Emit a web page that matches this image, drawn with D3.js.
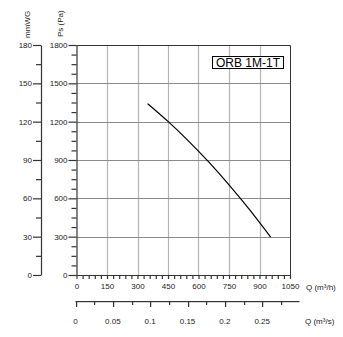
<!DOCTYPE html>
<html>
<head>
<meta charset="utf-8">
<script src="https://cdn.jsdelivr.net/npm/d3@7/dist/d3.min.js"></script>
<style>
  html, body { margin: 0; padding: 0; background: #fff; }
  #wrap { position: relative; width: 343px; height: 337px; }
  #wrap svg { position: absolute; left: 0; top: 0; display: block; }
  svg text { font-family: "Liberation Sans", Arial, sans-serif; }
</style>
</head>
<body>
<div id="wrap">
  <svg id="chart" width="343" height="337" viewBox="0 0 343 337"></svg>
  <svg id="flow-s" width="343" height="337" viewBox="0 0 343 337"></svg>
</div>
<script>
// Fan performance curve: static pressure vs. airflow
const flowM3h    = [350, 450, 550, 650, 750, 850, 955];
const pressurePa = [1341, 1202, 1050, 885, 706, 514, 297];

const paTicks    = [0, 300, 600, 900, 1200, 1500, 1800];
const mmwgTicks  = [0, 30, 60, 90, 120, 150, 180];
const m3hTicks   = [0, 150, 300, 450, 600, 750, 900, 1050];
const m3sTicks   = [0, 0.05, 0.1, 0.15, 0.2, 0.25];
const m3sLabels  = ["0", "0.05", "0.1", "0.15", "0.2", "0.25"];
const m3sMinor   = [0.025, 0.075, 0.125, 0.175, 0.225, 0.275];
const modelName  = "ORB 1M-1T";

const svg = d3.select("#chart");
const ink = "#222";
const axisInk = "#333";

const plotL = 76.5, plotR = 290, plotT = 45, plotB = 275;
const x = d3.scaleLinear().domain([0, 1050]).range([plotL, plotR]);
const y = d3.scaleLinear().domain([0, 1800]).range([plotB, plotT]);
const yMm = d3.scaleLinear().domain([0, 180]).range([plotB, plotT]);
const xS = d3.scaleLinear().domain([0, 0.3]).range([75.5, 299.5]);
const mmAxisX = 41;
const sAxisY = 301;

// grid
const grid = svg.append("g");
grid.selectAll("line.v").data(m3hTicks.slice(1, -1)).join("line")
  .attr("x1", d => Math.round(x(d)) + 0.5).attr("x2", d => Math.round(x(d)) + 0.5)
  .attr("y1", plotT).attr("y2", plotB)
  .attr("stroke", "#b4b4b4").attr("stroke-width", 1.2);
grid.selectAll("line.h").data(paTicks.slice(1, -1)).join("line")
  .attr("x1", plotL).attr("x2", plotR)
  .attr("y1", d => Math.round(y(d)) + 0.5).attr("y2", d => Math.round(y(d)) + 0.5)
  .attr("stroke", "#8a8a8a").attr("stroke-width", 1.2);

// frame: top and right borders
svg.append("path")
  .attr("d", `M${plotL},${plotT + 0.5}H${plotR + 0.5}V${plotB}`)
  .attr("fill", "none").attr("stroke", axisInk).attr("stroke-width", 1);

// Pa axis
const yAxis = d3.axisLeft(y).tickValues(paTicks).tickSize(8).tickSizeOuter(0).tickPadding(1).tickFormat(d3.format("d"));
svg.append("g").attr("transform", `translate(${plotL},0)`).call(yAxis);
const yMinor = d3.axisLeft(y).tickValues(d3.range(0, 1801, 75).filter(v => v % 300 !== 0)).tickSize(5).tickFormat("");
svg.append("g").attr("transform", `translate(${plotL},0)`).call(yMinor).select(".domain").remove();

// mmWG axis
const mmAxis = d3.axisLeft(yMm).tickValues(mmwgTicks).tickSize(8).tickSizeOuter(0).tickPadding(1).tickFormat(d3.format("d"));
svg.append("g").attr("transform", `translate(${mmAxisX},0)`).call(mmAxis);
const mmMinor = d3.axisLeft(yMm).tickValues(d3.range(15, 180, 30)).tickSize(5).tickFormat("");
svg.append("g").attr("transform", `translate(${mmAxisX},0)`).call(mmMinor).select(".domain").remove();

// m3/h axis
const xAxis = d3.axisBottom(x).tickValues(m3hTicks).tickSize(4).tickSizeOuter(0).tickPadding(4).tickFormat(d3.format("d"));
svg.append("g").attr("transform", `translate(0,${plotB})`).call(xAxis);
const xMinor = d3.axisBottom(x).tickValues(d3.range(30, 1050, 30).filter(v => v % 150 !== 0)).tickSize(4).tickFormat("");
svg.append("g").attr("transform", `translate(0,${plotB})`).call(xMinor).select(".domain").remove();

// shared axis styling
svg.selectAll(".domain").attr("stroke", axisInk).attr("stroke-width", 1.2);
svg.selectAll(".tick line").attr("stroke", axisInk).attr("stroke-width", 1.2);
svg.selectAll(".tick text").attr("fill", ink).attr("font-size", 8)
  .attr("font-family", "'Liberation Sans', Arial, sans-serif");

// axis titles
svg.append("text").attr("transform", "translate(30,38) rotate(-90)")
  .attr("font-size", 8).attr("fill", ink).text("mmWG");
svg.append("text").attr("transform", "translate(63,37) rotate(-90)")
  .attr("font-size", 8).attr("fill", ink).text("Ps (Pa)");
svg.append("text").attr("x", 306).attr("y", 290)
  .attr("font-size", 8).attr("fill", ink).text("Q (m³/h)");
svg.append("text").attr("x", 305).attr("y", 324)
  .attr("font-size", 8).attr("fill", ink).text("Q (m³/s)");

// performance curve
const pts = flowM3h.map((q, i) => [q, pressurePa[i]]);
svg.append("path")
  .datum(pts)
  .attr("fill", "none").attr("stroke", "#000").attr("stroke-width", 1.2)
  .attr("d", d3.line().x(d => x(d[0])).y(d => y(d[1])).curve(d3.curveMonotoneX));

// model label box
const lab = svg.append("g");
lab.append("rect").attr("x", 212.5).attr("y", 56.5).attr("width", 71).attr("height", 12)
  .attr("fill", "#fff").attr("stroke", "#000").attr("stroke-width", 1);
lab.append("text").attr("x", 248).attr("y", 66.5).attr("text-anchor", "middle")
  .attr("font-size", 12).attr("fill", "#000").text(modelName);

// m3/s axis on its own layer: baseline, major and minor ticks, labels
const sSvg = d3.select("#flow-s");
const sG = sSvg.append("g").attr("fill", axisInk);
sG.append("rect")
  .attr("x", xS(0)).attr("y", sAxisY)
  .attr("width", xS(0.3) - xS(0)).attr("height", 1.2);
sG.selectAll("rect.maj").data(m3sTicks).join("rect").attr("class", "maj")
  .attr("x", d => Math.round(xS(d))).attr("y", sAxisY)
  .attr("width", 1.2).attr("height", 6);
sG.selectAll("rect.min").data(m3sMinor).join("rect").attr("class", "min")
  .attr("x", d => Math.round(xS(d))).attr("y", sAxisY)
  .attr("width", 1.2).attr("height", 4);
sSvg.append("g").selectAll("text").data(m3sTicks).join("text")
  .attr("x", d => xS(d)).attr("y", sAxisY + 22.5)
  .attr("text-anchor", "middle").attr("font-size", 8).attr("fill", ink)
  .text((d, i) => m3sLabels[i]);
</script>
</body>
</html>
